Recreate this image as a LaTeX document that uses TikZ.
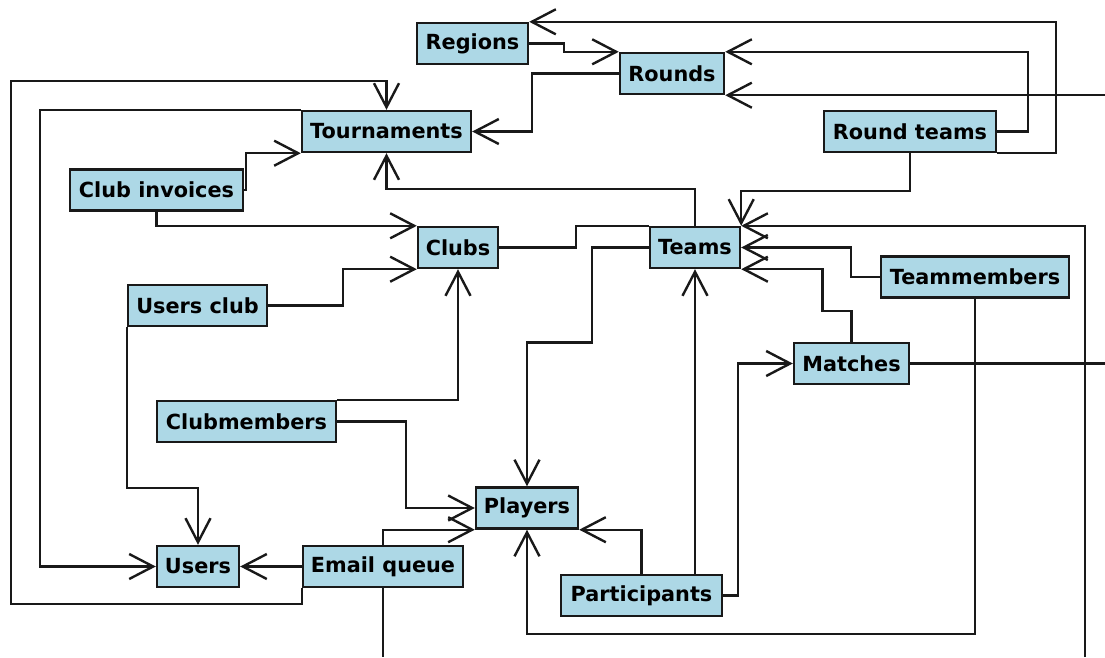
\documentclass[tikz,border=0pt]{standalone}
\usepackage{fontspec}
\setmainfont{DejaVu Sans}
\usepackage{tikz}
\usetikzlibrary{calc,arrows.meta}
\definecolor{tblblue}{RGB}{173,216,230}
\definecolor{tblline}{RGB}{25,25,25}

\begin{document}
\begin{tikzpicture}[
    x=1pt, y=-1pt,
    tbl/.style={draw=tblline, fill=tblblue, line width=2.4pt, inner sep=0pt,
      minimum height=41pt, font=\bfseries\fontsize{20.8}{24}\selectfont},
    fk/.style={draw=tblline, line width=2.4pt,
      -{Straight Barb[length=24pt,width=25pt]}},
    plain/.style={draw=tblline, line width=2.4pt},
  ]
  \useasboundingbox (0,0) rectangle (1105,657);

  % --- tables ---
  \node[tbl, minimum width=111pt] (regions)    at (472.5,43.5) {Regions};
  \node[tbl, minimum width=104pt] (rounds)     at (672,73.5)   {Rounds};
  \node[tbl, minimum width=169pt] (tourn)      at (386.5,131.5){Tournaments};
  \node[tbl, minimum width=172pt] (roundteams) at (910,131.5)  {Round teams};
  \node[tbl, minimum width=173pt] (clubinv)    at (156.5,190)  {Club invoices};
  \node[tbl, minimum width=80pt]  (clubs)      at (458,247.5)  {Clubs};
  \node[tbl, minimum width=90pt]  (teams)      at (695,247.5)  {Teams};
  \node[tbl, minimum width=188pt] (teammem)    at (975,277)    {Teammembers};
  \node[tbl, minimum width=139pt] (usersclub)  at (197.5,305.5){Users club};
  \node[tbl, minimum width=115pt] (matches)    at (851.5,363.5){Matches};
  \node[tbl, minimum width=179pt] (clubmem)    at (246.5,421.5){Clubmembers};
  \node[tbl, minimum width=102pt] (players)    at (527,508)    {Players};
  \node[tbl, minimum width=82pt]  (users)      at (198,566.5)  {Users};
  \node[tbl, minimum width=160pt] (emailq)     at (383,566.5)  {Email queue};
  \node[tbl, minimum width=161pt] (partic)     at (641.5,595.5){Participants};

  % --- loose ends (tables outside the view) ---
  \coordinate (edgeright)  at (1105,0);
  \coordinate (edgebottom) at (0,657);
  \coordinate (offright)   at (rounds.south east -| edgeright);
  \coordinate (offbottom)  at (1085,657);

  % --- upper part ---
  \draw[fk] (regions.east) -- ++(35,0) |- (rounds.north west);
  \draw[fk] (rounds.west) -- ++(-87,0) |- (tourn.east);
  \draw[fk] (roundteams.east) -- ++(31,0) |- (rounds.north east);
  \draw[fk] (roundteams.south east) -- ++(59,0) |- (regions.north east);
  \draw[fk] (offright) -- (rounds.south east);
  \draw[fk] (roundteams.south) -- ++(0,38) -| (teams.north east);
  \draw[fk] (teams.north) -- ++(0,-37) -| (tourn.south);
  \draw[fk] (clubinv.east) -- ++(2,0) |- (tourn.south west);
  \draw[fk] (clubinv.south) |- (clubs.north west);
  \draw[plain] (clubs.east) -- ++(77,0) |- (teams.north west);

  % --- teams and players ---
  \draw[fk] (teams.west) -- ++(-57,0) -- ++(0,95) -| (players.north);
  \draw[fk] (teams.south |- partic.north) -- (teams.south);
  \draw[fk] (partic.east) -- ++(15,0) |- (matches.west);
  \draw[fk] (partic.north) |- (players.south east);
  \draw[fk] (teammem.south) -- ++(0,335) -| (players.south);
  \draw[fk] (teammem.west) -- ++(-29,0) |- (teams.east);
  \draw[fk] (matches.north) -- ++(0,-31) -- ++(-29,0) |- (teams.south east);
  \draw[fk] (offbottom) |- (teams.north east);
  \draw[plain] (matches.east) -- (matches.east -| edgeright);

  % --- users and clubs ---
  \draw[fk] (tourn.north west) -- ++(-261,0) |- (users.west);
  \draw[fk] (emailq.south west) -- ++(0,16) -- ++(-291,0)
    |- ([yshift=29pt]tourn.north) -- (tourn.north);
  \draw[fk] (usersclub.east) -- ++(75,0) |- (clubs.south west);
  \draw[fk] (clubmem.north east) -| (clubs.south);
  \draw[fk] (clubmem.east) -- ++(69,0) |- (players.west);
  \draw[fk] (emailq.north) |- (players.south west);
  \draw[fk] (emailq.west) -- (users.east);
  \draw[fk] (usersclub.south west) -- ++(0,161) -| (users.north);
  \draw[plain] (emailq.south) -- (emailq.south |- edgebottom);
\end{tikzpicture}
\end{document}
